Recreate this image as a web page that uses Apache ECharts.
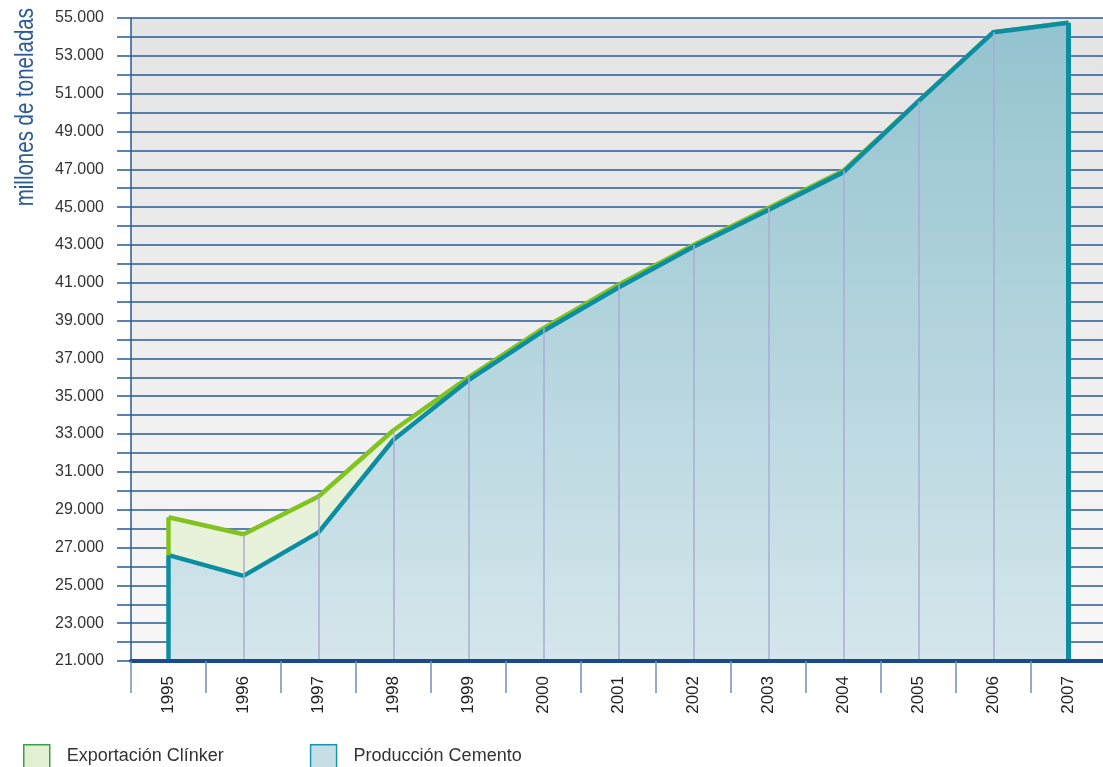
<!DOCTYPE html>
<html>
<head>
<meta charset="utf-8">
<script src="https://cdn.jsdelivr.net/npm/echarts@6/dist/echarts.min.js"></script>
<style>
  html, body { margin: 0; padding: 0; background: #fff; }
  #chart { width: 1103px; height: 767px; }
</style>
</head>
<body>
<div id="chart"></div>
<script>
// data (toneladas, miles)
const years = ['1995', '1996', '1997', '1998', '1999', '2000', '2001', '2002', '2003', '2004', '2005', '2006', '2007'];
const produccion = [26600, 25500, 27800, 32700, 35850, 38450, 40750, 42900, 44850, 46850, 50600, 54250, 54750];
const exportacion = [2000, 2200, 1900, 500, 150, 150, 150, 100, 100, 80, 0, 0, 0];
const seriesNames = ['Exportación Clínker', 'Producción Cemento'];
const yMin = 21000;
const yMax = 55000;
const yStep = 1000;
const yLabelStep = 2000;

const FONT = "'Liberation Sans', Arial, sans-serif";
const AXIS_BLUE = '#2a5a96';
const TEAL = '#0b8ea2';
const GREEN = '#82c31f';
const GUIDE = '#a9acd0';

const totals = produccion.map((v, i) => v + exportacion[i]);
const last = years.length - 1;

// thin vertical guides under the curve
const guides = [];
for (let i = 1; i < last; i++) {
  guides.push([{ coord: [years[i], yMin] }, { coord: [years[i], totals[i]] }]);
}

const myChart = echarts.init(document.getElementById('chart'));

myChart.setOption({
  animation: false,
  backgroundColor: '#fff',
  textStyle: { fontFamily: FONT },
  grid: {
    left: 131,
    top: 18,
    bottom: 106,
    width: 975,
    show: true,
    borderWidth: 0,
    outerBoundsMode: 'none',
    backgroundColor: {
      type: 'linear', x: 0, y: 0, x2: 0, y2: 1,
      colorStops: [
        { offset: 0, color: '#e4e4e4' },
        { offset: 1, color: '#f8f8f8' }
      ]
    }
  },
  graphic: [{
    type: 'text',
    left: 14,
    top: 8,
    rotation: Math.PI / 2,
    scaleX: 0.82,
    style: {
      text: 'millones de toneladas',
      fill: AXIS_BLUE,
      fontSize: 25,
      fontFamily: FONT
    }
  }],
  legend: {
    left: 23,
    top: 744,
    padding: 0,
    itemWidth: 26,
    itemHeight: 23,
    itemGap: 86,
    textStyle: { color: '#333', fontSize: 18, fontFamily: FONT, padding: [0, 0, 0, 12] },
    data: [
      {
        name: seriesNames[0],
        icon: 'rect',
        itemStyle: { color: '#e3efd2', borderColor: '#3aa04a', borderWidth: 1.5 }
      },
      {
        name: seriesNames[1],
        icon: 'rect',
        itemStyle: { color: '#c6dfe6', borderColor: '#1796b0', borderWidth: 1.5 }
      }
    ]
  },
  xAxis: {
    type: 'category',
    data: years,
    boundaryGap: true,
    z: 10,
    axisLine: { lineStyle: { color: '#1b4a8a', width: 4 } },
    axisTick: { show: true, length: 32, lineStyle: { color: '#7090bb', width: 1.5 } },
    axisLabel: {
      rotate: 90,
      margin: 15,
      interval: 0,
      color: '#222',
      fontSize: 17,
      fontFamily: FONT
    },
    splitLine: { show: false }
  },
  yAxis: {
    type: 'value',
    min: yMin,
    max: yMax,
    interval: yStep,
    axisLine: { show: true, lineStyle: { color: AXIS_BLUE, width: 1.5 } },
    axisTick: { show: true, length: 14, lineStyle: { color: AXIS_BLUE, width: 1.5 } },
    axisLabel: {
      margin: 27,
      color: '#333',
      fontSize: 16,
      fontFamily: FONT,
      formatter: (v) => ((v - yMin) % yLabelStep === 0 ? (v / 1000) + '.000' : '')
    },
    splitLine: { show: true, lineStyle: { color: AXIS_BLUE, width: 1.5 } }
  },
  series: [
    {
      name: seriesNames[1],
      type: 'line',
      stack: 'total',
      data: produccion,
      z: 4,
      symbol: 'none',
      lineStyle: { color: TEAL, width: 4.5 },
      itemStyle: { color: TEAL },
      areaStyle: {
        opacity: 1,
        color: {
          type: 'linear', x: 0, y: 0, x2: 0, y2: 1,
          colorStops: [
            { offset: 0, color: '#93c3cf' },
            { offset: 1, color: '#d5e6ec' }
          ]
        }
      },
      markLine: {
        silent: true,
        symbol: ['none', 'none'],
        label: { show: false },
        data: [
          [{ coord: [years[0], yMin], lineStyle: { color: TEAL, width: 4.5, type: 'solid' } },
           { coord: [years[0], produccion[0]] }],
          [{ coord: [years[last], yMin], lineStyle: { color: TEAL, width: 5, type: 'solid' } },
           { coord: [years[last], produccion[last]] }]
        ]
      }
    },
    {
      name: seriesNames[0],
      type: 'line',
      stack: 'total',
      data: exportacion,
      z: 2,
      symbol: 'none',
      lineStyle: { color: GREEN, width: 4.5 },
      itemStyle: { color: GREEN },
      areaStyle: { opacity: 1, color: '#e8f1d9' },
      markLine: {
        silent: true,
        symbol: ['none', 'none'],
        label: { show: false },
        data: [
          [{ coord: [years[0], produccion[0]], lineStyle: { color: GREEN, width: 4.5, type: 'solid' } },
           { coord: [years[0], totals[0]] }]
        ]
      }
    },
    {
      name: 'guias',
      type: 'line',
      data: totals,
      z: 3,
      symbol: 'none',
      silent: true,
      lineStyle: { opacity: 0 },
      markLine: {
        silent: true,
        symbol: ['none', 'none'],
        label: { show: false },
        lineStyle: { color: GUIDE, width: 1.5, type: 'solid' },
        data: guides
      }
    }
  ]
});
</script>
</body>
</html>
